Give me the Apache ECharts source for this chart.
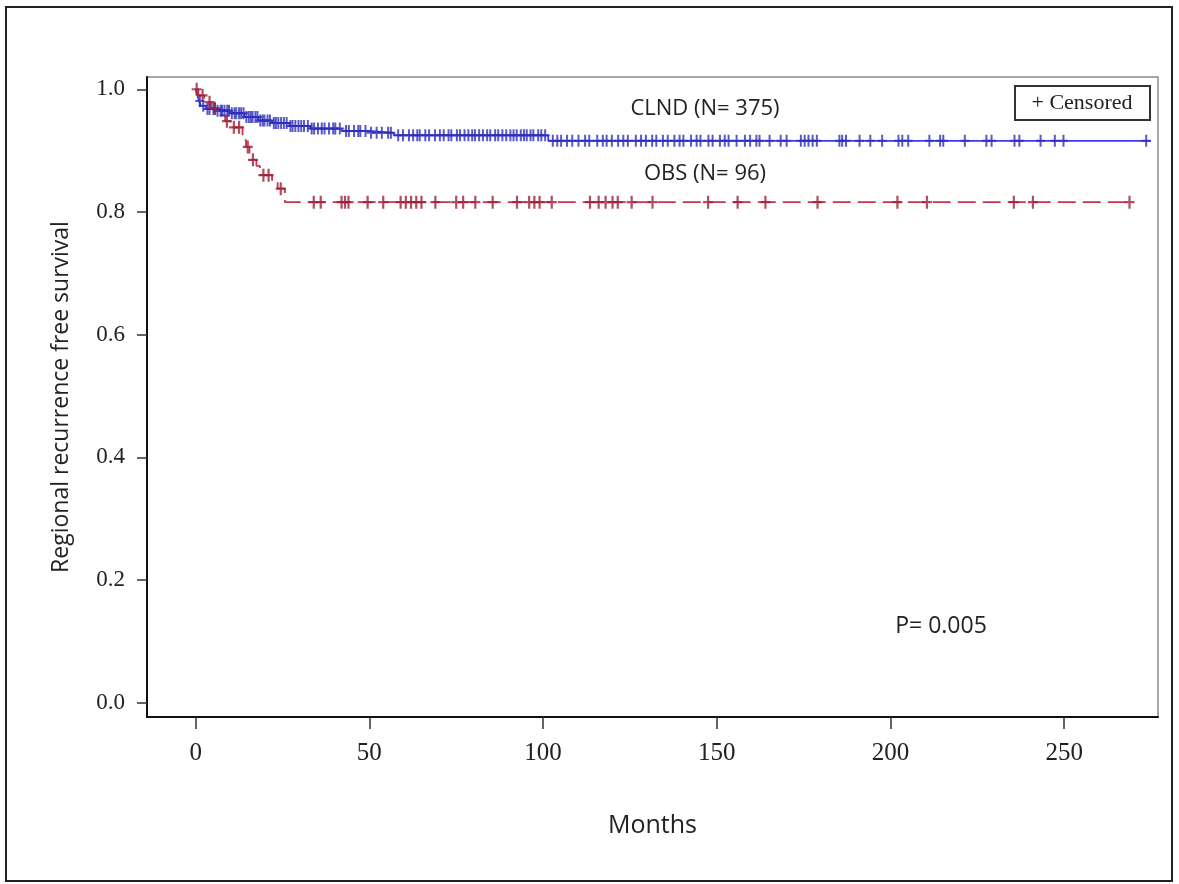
<!DOCTYPE html>
<html>
<head>
<meta charset="utf-8">
<script src="https://cdn.jsdelivr.net/npm/echarts@6/dist/echarts.min.js"></script>
<style>
  html, body { margin: 0; background: #fff; }
  #chart { width: 1179px; height: 884px; }
</style>
</head>
<body>
<div id="chart"></div>
<script>
// axis ticks
const xTicks = [0, 50, 100, 150, 200, 250]
const yTicks = [0, 0.2, 0.4, 0.6, 0.8, 1.0]

// CLND (N=375): step times and survival
const clndTimes = [0, 0.5, 1, 1.5, 3, 6, 10, 14, 18, 22, 27, 33, 42, 50, 57, 101.5]
const clndSurv = [1.0, 0.99, 0.981, 0.973, 0.968, 0.965, 0.961, 0.955, 0.949, 0.945, 0.940, 0.936, 0.932, 0.929, 0.925, 0.916]
const clndEnd = 275
const clndCensored = [
  1.2, 2.2, 3.4, 4, 5.1, 5.6, 6.3, 7.2, 7.6, 8.3, 9.1, 9.6, 10.4, 11.2, 11.7, 12.5, 13.1, 13.8, 14.6, 15.3,
  15.9, 16.4, 17.2, 17.8, 18.6, 19.3, 19.8, 20.7, 21.4, 22.5, 23.1, 23.8, 24.6, 25.4, 26.2, 27.3, 27.9, 28.7, 29.6, 30.4,
  31.2, 32.3, 33.4, 34.1, 35.2, 36.3, 37.1, 38.4, 39.6, 40.2, 41.5, 43.3, 44.1, 45.6, 46.8, 47.4, 48.9, 50.5, 52.1, 53.6,
  55.4, 56.2, 58.3, 59.7, 61.4, 62.6, 63.8, 64.5, 66.1, 67.2, 68.9, 70.3, 71.4, 72.8, 73.6, 75.2, 76.1, 77.4, 78.5, 79.6,
  80.4, 81.6, 82.7, 83.9, 84.8, 86.2, 87.1, 88.3, 89.4, 90.6, 91.5, 92.4, 93.6, 94.5, 95.3, 96.4, 97.2, 98.6, 99.5, 100.6,
  102.8, 104.1, 105.2, 106.9, 108.4, 110.2, 112.1, 113.3, 115.6, 117.2, 118.3, 119.8, 121.6, 123.1, 124.4, 126.7, 128.2, 129.6,
  131.4, 132.6, 134.5, 135.9, 137.8, 139.3, 140.4, 142.6, 144.2, 145.3, 147.6, 148.8, 150.9, 152.3, 153.4, 155.7, 158.1, 159.6,
  161.4, 162.3, 165.2, 168.4, 170.1, 174.2, 175.3, 176.4, 177.6, 178.8, 185.3, 186.1, 187.2, 191.1, 194.2, 197.6, 202.3, 203.4,
  205.1, 211.2, 214.3, 215.2, 221.4, 227.6, 229.1, 235.7, 237.1, 243.2, 247.3, 249.8, 273.6
]

// OBS (N=96)
const obsTimes = [0, 0.8, 2.5, 4.5, 7, 8.5, 10, 13.5, 14.5, 15.5, 17.5, 18.5, 22, 23.6, 25.7]
const obsSurv = [1.0, 0.99, 0.979, 0.969, 0.958, 0.948, 0.938, 0.917, 0.906, 0.885, 0.875, 0.86, 0.85, 0.838, 0.816]
const obsEnd = 269
const obsCensored = [
  0.3, 2, 4, 5.5, 9, 11, 12.5, 15, 16.5, 19.5, 21, 24.5,
  34, 36, 42, 43, 44, 49.5, 54, 59, 60.5, 62, 63.5, 65, 69, 75, 77, 80.5, 85.5, 92.5, 96, 97.5, 99, 102.5,
  113.5, 116, 118, 120, 121.5, 125.5, 131.5, 147.5, 156, 164, 179, 202, 210.5, 235.5, 241, 268.8
]

function survAt(times, surv, t) {
  let s = surv[0]
  for (let i = 0; i < times.length; i++) {
    if (times[i] <= t) s = surv[i]
  }
  return s
}

function curve(times, surv, end) {
  const pts = times.map((t, i) => [t, surv[i]])
  pts.push([end, surv[surv.length - 1]])
  return pts
}

function marks(times, surv, cens) {
  return cens.map(t => [t, survAt(times, surv, t)])
}

const plus = 'path://M3.9,0h2.2v12h-2.2z M0,5h10v2h-10z'
const sansFont = '"Open Sans", "DejaVu Sans", sans-serif'
const serifFont = '"Liberation Serif", "DejaVu Serif", serif'

const chart = echarts.init(document.getElementById('chart'))

chart.setOption({
  animation: false,
  backgroundColor: '#fff',
  grid: {
    left: 147, top: 77, right: 21, bottom: 167,
    show: true,
    borderColor: '#8a8a8a',
    borderWidth: 1.5
  },
  xAxis: {
    type: 'value',
    min: -14,
    max: 277,
    name: 'Months',
    nameLocation: 'middle',
    nameGap: 96,
    nameTextStyle: { fontFamily: sansFont, fontSize: 25, color: '#222' },
    axisLine: { onZero: false, lineStyle: { color: '#111', width: 2 } },
    axisTick: { customValues: xTicks, length: 12, lineStyle: { color: '#333', width: 1.5 } },
    axisLabel: { customValues: xTicks, margin: 24, fontFamily: serifFont, fontSize: 25, color: '#222' },
    splitLine: { show: false }
  },
  yAxis: {
    type: 'value',
    min: -0.023,
    max: 1.02,
    name: 'Regional recurrence free survival',
    nameLocation: 'middle',
    nameGap: 74,
    nameTextStyle: { fontFamily: sansFont, fontSize: 23, color: '#222' },
    axisLine: { onZero: false, lineStyle: { color: '#111', width: 2 } },
    axisTick: { customValues: yTicks, length: 10, lineStyle: { color: '#333', width: 1.5 } },
    axisLabel: {
      customValues: yTicks,
      margin: 22,
      fontFamily: serifFont,
      fontSize: 23,
      color: '#222',
      formatter: v => v.toFixed(1)
    },
    splitLine: { show: false }
  },
  series: [
    {
      name: 'CLND',
      type: 'line',
      step: 'end',
      showSymbol: false,
      data: curve(clndTimes, clndSurv, clndEnd),
      lineStyle: { color: '#3b3bf5', width: 1.8 },
      z: 2
    },
    {
      name: 'OBS',
      type: 'line',
      step: 'end',
      showSymbol: false,
      data: curve(obsTimes, obsSurv, obsEnd),
      lineStyle: { color: '#c8354d', width: 1.8, type: [18, 7] },
      z: 2
    },
    {
      name: 'CLND censored',
      type: 'scatter',
      symbol: plus,
      symbolSize: [9, 12],
      data: marks(clndTimes, clndSurv, clndCensored),
      itemStyle: { color: '#2e2eb8' },
      z: 3
    },
    {
      name: 'OBS censored',
      type: 'scatter',
      symbol: plus,
      symbolSize: [10, 13],
      data: marks(obsTimes, obsSurv, obsCensored),
      itemStyle: { color: '#9e2038' },
      z: 3
    }
  ],
  graphic: [
    {
      type: 'rect',
      shape: { x: 6, y: 7, width: 1166, height: 874 },
      style: { fill: 'none', stroke: '#222', lineWidth: 2 },
      silent: true
    },
    {
      type: 'text',
      x: 705, y: 109,
      style: { text: 'CLND (N= 375)', font: '22px ' + sansFont, fill: '#222', align: 'center', verticalAlign: 'middle' }
    },
    {
      type: 'text',
      x: 705, y: 174,
      style: { text: 'OBS (N= 96)', font: '22px ' + sansFont, fill: '#222', align: 'center', verticalAlign: 'middle' }
    },
    {
      type: 'text',
      x: 941, y: 626,
      style: { text: 'P= 0.005', font: '23px ' + sansFont, fill: '#222', align: 'center', verticalAlign: 'middle' }
    },
    {
      type: 'rect',
      shape: { x: 1015, y: 86, width: 135, height: 34 },
      style: { fill: '#fff', stroke: '#333', lineWidth: 2 },
      z: 10
    },
    {
      type: 'text',
      x: 1082, y: 103,
      z: 11,
      style: { text: '+ Censored', font: '22px ' + serifFont, fill: '#222', align: 'center', verticalAlign: 'middle' }
    }
  ]
})
</script>
</body>
</html>
